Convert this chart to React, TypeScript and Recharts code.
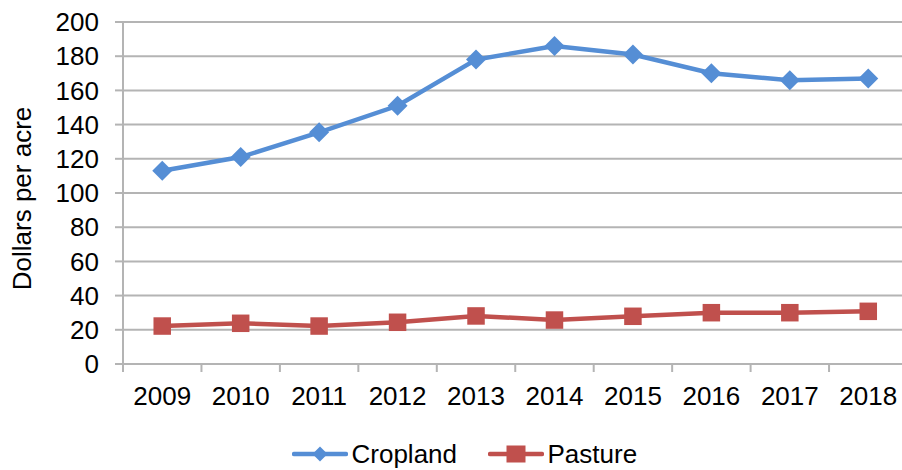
import { LineChart, Line, XAxis, YAxis, CartesianGrid, Legend, Label } from "recharts";

const years = ["2009", "2010", "2011", "2012", "2013", "2014", "2015", "2016", "2017", "2018"];
const cropland = [113, 121, 135.5, 151, 178, 186, 181, 170, 166, 167];
const pasture = [22.2, 23.8, 22.2, 24.4, 28.1, 25.7, 27.9, 30, 30, 30.8];
const yTicks = [0, 20, 40, 60, 80, 100, 120, 140, 160, 180, 200];

const data = years.map((year, i) => ({ year, cropland: cropland[i], pasture: pasture[i] }));

const FONT = "'Liberation Sans', Arial, sans-serif";
const BLUE = "#558ED5";
const RED = "#C0504D";
const GRID = "#B4B4B4";

const CHART_W = 909;
const CHART_H = 470;
const PLOT_LEFT = 123;
const PLOT_RIGHT = 907.5;
const PLOT_TOP = 22;
const PLOT_BOTTOM = 364;
const X_AXIS_H = 60;
const BAND = (PLOT_RIGHT - PLOT_LEFT) / years.length;

const Diamond = (props: any) => {
  const { cx, cy, r = 10, fill } = props;
  if (cx == null || cy == null) return null;
  return <polygon points={`${cx},${cy - r} ${cx + r},${cy} ${cx},${cy + r} ${cx - r},${cy}`} fill={fill} />;
};

const Square = (props: any) => {
  const { cx, cy, s = 8.75, fill } = props;
  if (cx == null || cy == null) return null;
  return <rect x={cx - s} y={cy - s} width={s * 2} height={s * 2} fill={fill} />;
};

const XTick = (props: any) => {
  const { x, payload, index } = props;
  const left = x - BAND / 2;
  return (
    <g>
      <line x1={left} x2={left} y1={PLOT_BOTTOM} y2={PLOT_BOTTOM + 8} stroke={GRID} strokeWidth={2} />
      {index === years.length - 1 && (
        <line x1={x + BAND / 2} x2={x + BAND / 2} y1={PLOT_BOTTOM} y2={PLOT_BOTTOM + 8} stroke={GRID} strokeWidth={2} />
      )}
      <text x={x} y={PLOT_BOTTOM + 41} textAnchor="middle" fontFamily={FONT} fontSize={26} fill="#000">
        {payload.value}
      </text>
    </g>
  );
};

const YLabel = () => (
  <text
    x={31}
    y={198.5}
    transform="rotate(-90, 31, 198.5)"
    textAnchor="middle"
    fontFamily={FONT}
    fontSize={26}
    fill="#000"
  >
    Dollars per acre
  </text>
);

const legendItems = [
  { name: "Cropland", color: BLUE, marker: "diamond" },
  { name: "Pasture", color: RED, marker: "square" },
];

const LegendContent = () => (
  <div style={{ display: "flex", alignItems: "center", fontFamily: FONT, fontSize: 26, lineHeight: "26px" }}>
    {legendItems.map((item, i) => (
      <div key={item.name} style={{ display: "flex", alignItems: "center", marginLeft: i === 0 ? 0 : 31 }}>
        <svg width={56} height={20} style={{ display: "block" }}>
          <line x1={2} x2={54} y1={10} y2={10} stroke={item.color} strokeWidth={4.5} strokeLinecap="round" />
          {item.marker === "diamond" ? (
            <polygon points="28,2.5 35.5,10 28,17.5 20.5,10" fill={item.color} />
          ) : (
            <rect x={18.5} y={1.5} width={19} height={17} fill={item.color} />
          )}
        </svg>
        <span style={{ marginLeft: 3.5, color: "#000" }}>{item.name}</span>
      </div>
    ))}
  </div>
);

export default function App() {
  return (
    <div style={{ position: "absolute", left: 0, top: 0, width: 902, height: 470, overflow: "hidden", background: "#fff" }}>
      <LineChart
        width={CHART_W}
        height={CHART_H}
        data={data}
        margin={{ top: PLOT_TOP, right: CHART_W - PLOT_RIGHT, left: 0, bottom: CHART_H - PLOT_BOTTOM - X_AXIS_H }}
      >
        <CartesianGrid vertical={false} stroke={GRID} strokeWidth={2} />
        <XAxis
          dataKey="year"
          scale="band"
          height={X_AXIS_H}
          tickLine={false}
          axisLine={{ stroke: GRID, strokeWidth: 2 }}
          tick={<XTick />}
          interval={0}
        />
        <YAxis
          width={PLOT_LEFT}
          domain={[0, 200]}
          ticks={yTicks}
          interval={0}
          tickSize={8}
          tickMargin={16}
          tickLine={{ stroke: GRID, strokeWidth: 2 }}
          axisLine={{ stroke: GRID, strokeWidth: 2 }}
          tick={{ fontFamily: FONT, fontSize: 26, fill: "#000" }}
        >
          <Label content={<YLabel />} />
        </YAxis>
        <Legend
          verticalAlign="middle"
          align="center"
          layout="horizontal"
          content={<LegendContent />}
          wrapperStyle={{ left: 292, top: 441, width: "auto" }}
        />
        <Line
          type="linear"
          dataKey="cropland"
          name="Cropland"
          stroke={BLUE}
          strokeWidth={4.5}
          dot={(p: any) => <Diamond key={`c${p.index}`} cx={p.cx} cy={p.cy} fill={BLUE} />}
          activeDot={false}
          isAnimationActive={false}
        />
        <Line
          type="linear"
          dataKey="pasture"
          name="Pasture"
          stroke={RED}
          strokeWidth={4.5}
          dot={(p: any) => <Square key={`p${p.index}`} cx={p.cx} cy={p.cy} fill={RED} />}
          activeDot={false}
          isAnimationActive={false}
        />
      </LineChart>
    </div>
  );
}
